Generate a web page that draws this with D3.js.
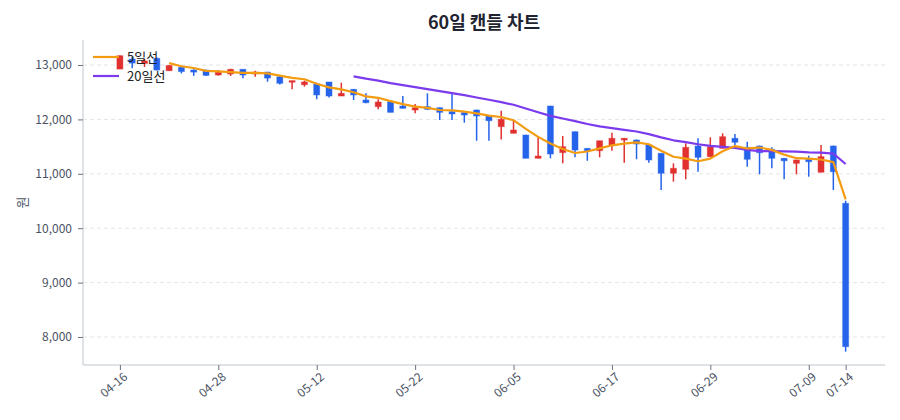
<!DOCTYPE html>
<html>
<head>
<meta charset="utf-8">
<script src="https://cdn.jsdelivr.net/npm/d3@7"></script>
<style>
  body { margin: 0; background: #fff; }
  svg text { font-family: "Noto Sans CJK KR", "Noto Sans", sans-serif; }
</style>
</head>
<body>
<div id="canvas"></div>
<script>
"use strict"

/* Data: 60 trading days */
let dates = [
  "04-16", "04-17", "04-18", "04-21", "04-22", "04-23", "04-24", "04-25", "04-28", "04-29",
  "04-30", "05-02", "05-06", "05-07", "05-08", "05-09", "05-12", "05-13", "05-14", "05-15",
  "05-16", "05-19", "05-20", "05-21", "05-22", "05-23", "05-26", "05-27", "05-28", "05-29",
  "06-02", "06-04", "06-05", "06-06", "06-09", "06-10", "06-11", "06-12", "06-13", "06-16",
  "06-17", "06-18", "06-19", "06-20", "06-23", "06-24", "06-25", "06-26", "06-29", "06-30",
  "07-01", "07-02", "07-03", "07-04", "07-07", "07-08", "07-09", "07-10", "07-11", "07-14"
];
let open = [
  12926, 13110, 13030, 13123, 12895, 12958, 12908, 12908, 12816, 12835,
  12921, 12835, 12870, 12785, 12690, 12638, 12650, 12688, 12430, 12553,
  12357, 12234, 12325, 12246, 12173, 12234, 12215, 12142, 12125, 12173,
  12063, 11867, 11745, 11713, 11285, 12246, 11390, 11774, 11468, 11425,
  11530, 11621, 11621, 11530, 11377, 11010, 11083, 11511, 11315, 11468,
  11653, 11487, 11511, 11450, 11285, 11193, 11267, 11028, 11511, 10458
];
let high = [
  13175, 13147, 13110, 13140, 12995, 12965, 12920, 12912, 12908, 12930,
  12925, 12895, 12875, 12800, 12712, 12712, 12675, 12690, 12675, 12560,
  12480, 12370, 12330, 12430, 12283, 12480, 12220, 12480, 12142, 12180,
  12070, 12160, 11989, 11720, 11682, 12250, 11695, 11780, 11470, 11608,
  11756, 11660, 11630, 11535, 11380, 11193, 11561, 11653, 11670, 11745,
  11732, 11590, 11520, 11487, 11290, 11260, 11333, 11530, 11520, 10506
];
let low = [
  12920, 12940, 12963, 12900, 12890, 12845, 12800, 12800, 12807, 12800,
  12755, 12785, 12693, 12640, 12553, 12602, 12370, 12405, 12430, 12357,
  12296, 12186, 12130, 12204, 12112, 12173, 11989, 11989, 11940, 11608,
  11608, 11633, 11745, 11285, 11285, 11285, 11193, 11303, 11240, 11303,
  11425, 11204, 11267, 11204, 10702, 10855, 10899, 11039, 11310, 11465,
  11530, 11130, 10991, 11101, 10899, 10991, 10947, 11028, 10702, 7730
];
let close = [
  13171, 13035, 13075, 12908, 12990, 12880, 12870, 12810, 12866, 12921,
  12816, 12870, 12760, 12663, 12712, 12688, 12450, 12430, 12480, 12450,
  12307, 12320, 12130, 12204, 12215, 12186, 12130, 12100, 12081, 12063,
  11976, 12002, 11805, 11285, 11327, 11364, 11498, 11437, 11425, 11608,
  11653, 11653, 11548, 11254, 11010, 11101, 11487, 11303, 11498, 11682,
  11580, 11267, 11388, 11285, 11240, 11254, 11222, 11315, 11039, 7822
];
let yTicks = [8000, 9000, 10000, 11000, 12000, 13000];

/* Configuration: drawing */
let svgWidth = 900;
let svgHeight = 420;
let plotLeft = 83, plotRight = 885, plotTop = 40, plotBottom = 365;
let upColor = "#e0302f";
let downColor = "#2563eb";
let ma5Color = "#f39c12";
let ma20Color = "#7c3aed";
let textColor = "#4a5163";

let svg = d3.select("#canvas")
    .append("svg")
    .attr("width", svgWidth)
    .attr("height", svgHeight);

/* Scales: candle index -> x, price -> y */
let xScale = d3.scaleLinear()
    .domain([-3, 62.2])
    .range([plotLeft, plotRight]);

let yScale = d3.scaleLinear()
    .domain([7485, 13460])
    .range([plotBottom, plotTop]);

/* Moving averages of the close */
function movingAvg(n) {
    let out = [];
    for (let i = n - 1; i < close.length; i++) {
        out.push({ i: i, v: d3.mean(close.slice(i - n + 1, i + 1)) });
    }
    return out;
}
let ma5 = movingAvg(5);
let ma20 = movingAvg(20);

/* Horizontal grid */
svg.append("g")
    .selectAll("line")
    .data(yTicks)
    .join("line")
    .attr("x1", plotLeft)
    .attr("x2", plotRight)
    .attr("y1", d => yScale(d))
    .attr("y2", d => yScale(d))
    .attr("stroke", "#e3e5e8")
    .attr("stroke-dasharray", "4,3");

/* Axes */
let yAxis = svg.append("g")
    .attr("transform", `translate(${plotLeft},0)`)
    .call(d3.axisLeft(yScale)
        .tickValues(yTicks)
        .tickFormat(d3.format(","))
        .tickSize(5)
        .tickSizeOuter(0)
        .tickPadding(6));

let tickIdx = d3.range(dates.length).filter(i => i % 8 === 0 || i === dates.length - 1);
let xAxis = svg.append("g")
    .attr("transform", `translate(0,${plotBottom})`)
    .call(d3.axisBottom(xScale)
        .tickValues(tickIdx)
        .tickFormat(i => dates[i])
        .tickSize(5)
        .tickSizeOuter(0));

xAxis.selectAll("text")
    .attr("text-anchor", "end")
    .attr("dx", "-0.2em")
    .attr("dy", "0.6em")
    .attr("transform", "rotate(-40)");

[xAxis, yAxis].forEach(function (ax) {
    ax.select(".domain").attr("stroke", "#d5d9df").attr("stroke-width", 1.5);
    ax.selectAll(".tick line").attr("stroke", "#6b7280");
    ax.selectAll("text")
        .attr("fill", textColor)
        .attr("font-size", 12);
});
xAxis.select(".domain").attr("d", `M${plotLeft},0H${plotRight}`);
yAxis.select(".domain").attr("d", `M0,${plotTop}V${plotBottom}`);

/* Candles */
let idx = d3.range(close.length);
let bodyW = 6;
let candleColor = i => close[i] >= open[i] ? upColor : downColor;

svg.append("g")
    .selectAll("line")
    .data(idx)
    .join("line")
    .attr("x1", i => xScale(i))
    .attr("x2", i => xScale(i))
    .attr("y1", i => yScale(high[i]))
    .attr("y2", i => yScale(low[i]))
    .attr("stroke", candleColor)
    .attr("stroke-width", 1.5);

svg.append("g")
    .selectAll("rect")
    .data(idx)
    .join("rect")
    .attr("x", i => xScale(i) - bodyW / 2)
    .attr("width", bodyW)
    .attr("y", i => yScale(Math.max(open[i], close[i])))
    .attr("height", i => Math.max(1.5, Math.abs(yScale(open[i]) - yScale(close[i]))))
    .attr("fill", candleColor)
    .attr("stroke", candleColor)
    .attr("stroke-opacity", 0.45)
    .attr("stroke-width", 1);

/* MA lines */
let line = d3.line()
    .x(d => xScale(d.i))
    .y(d => yScale(d.v));

svg.append("path")
    .datum(ma20)
    .attr("fill", "none")
    .attr("stroke", ma20Color)
    .attr("stroke-width", 2.2)
    .attr("stroke-linejoin", "round")
    .attr("d", line);

svg.append("path")
    .datum(ma5)
    .attr("fill", "none")
    .attr("stroke", ma5Color)
    .attr("stroke-width", 2.2)
    .attr("stroke-linejoin", "round")
    .attr("d", line);

/* Legend */
let legend = [
  { name: "5일선", color: ma5Color },
  { name: "20일선", color: ma20Color }
];
let lg = svg.append("g");
legend.forEach(function (d, k) {
    let y = 57 + k * 19;
    lg.append("line")
        .attr("x1", 93).attr("x2", 119)
        .attr("y1", y).attr("y2", y)
        .attr("stroke", d.color)
        .attr("stroke-width", 2.2);
    lg.append("text")
        .attr("x", 127)
        .attr("y", y)
        .attr("dy", "0.35em")
        .attr("font-size", 13)
        .attr("fill", "#222")
        .text(d.name);
});

/* Title and y label */
svg.append("text")
    .attr("x", (plotLeft + plotRight) / 2)
    .attr("y", 29)
    .attr("text-anchor", "middle")
    .attr("font-size", 18)
    .attr("font-weight", "bold")
    .attr("fill", "#1f2430")
    .text("60일 캔들 차트");

svg.append("text")
    .attr("transform", `translate(22,${(plotTop + plotBottom) / 2}) rotate(-90)`)
    .attr("text-anchor", "middle")
    .attr("dy", "0.35em")
    .attr("font-size", 13)
    .attr("fill", textColor)
    .text("원");
</script>
</body>
</html>
